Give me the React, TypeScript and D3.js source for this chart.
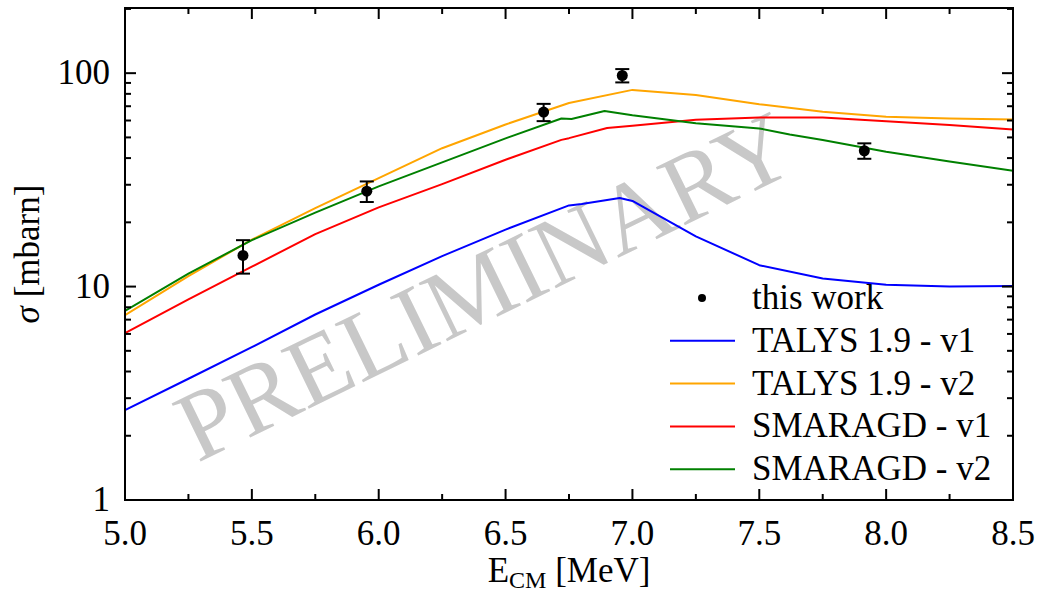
import React from 'react';
import * as d3 from 'd3';

const width = 1037;
const height = 596;
const margin = { left: 125, right: 24, top: 8, bottom: 96 };

// TALYS 1.9 - v1
const talysV1E = [5.0, 5.25, 5.5, 5.75, 6.0, 6.25, 6.5, 6.75, 6.8, 6.95, 7.0, 7.25, 7.5, 7.75, 8.0, 8.25, 8.5];
const talysV1 = [2.64, 3.7, 5.2, 7.4, 10.2, 13.9, 18.5, 24.0, 24.4, 26.0, 25.2, 17.2, 12.6, 10.9, 10.2, 10.0, 10.05];

// TALYS 1.9 - v2
const talysV2E = [5.0, 5.25, 5.5, 5.75, 6.0, 6.25, 6.5, 6.75, 7.0, 7.25, 7.5, 7.75, 8.0, 8.25, 8.5];
const talysV2 = [7.35, 11.2, 16.6, 23.3, 32.2, 44.5, 57.5, 72.5, 83.5, 79.0, 71.5, 66.0, 62.5, 61.3, 60.6];

// SMARAGD - v1
const smaragdV1E = [5.0, 5.25, 5.5, 5.75, 6.0, 6.25, 6.5, 6.72, 6.75, 6.9, 7.0, 7.25, 7.5, 7.75, 8.0, 8.25, 8.5];
const smaragdV1 = [6.05, 8.7, 12.4, 17.6, 23.5, 30.2, 39.3, 48.7, 49.6, 55.3, 56.7, 60.5, 62.0, 62.0, 59.6, 57.1, 54.5];

// SMARAGD - v2
const smaragdV2E = [5.0, 5.25, 5.5, 5.75, 6.0, 6.25, 6.5, 6.72, 6.76, 6.89, 7.0, 7.25, 7.5, 7.62, 7.75, 8.0, 8.25, 8.5];
const smaragdV2 = [7.7, 11.5, 16.5, 22.2, 29.5, 38.2, 49.5, 61.3, 61.0, 66.5, 63.5, 58.2, 55.1, 51.6, 48.6, 42.8, 38.6, 34.9];

// this work
const dataE = [5.465, 5.953, 6.65, 6.96, 7.914];
const dataSigma = [14.0, 28.0, 65.7, 97.5, 43.3];
const dataErr = [2.5, 3.1, 6.1, 7.0, 3.6];

const xTicks = [5.0, 5.5, 6.0, 6.5, 7.0, 7.5, 8.0, 8.5];
const xMinor = [5.25, 5.75, 6.25, 6.75, 7.25, 7.75, 8.25];
const yTicks = [1, 10, 100];
const yMinor = [2, 3, 4, 5, 6, 7, 8, 9, 20, 30, 40, 50, 60, 70, 80, 90, 200];

const series = [
  { name: 'TALYS 1.9 - v1', e: talysV1E, v: talysV1, color: '#0000ff' },
  { name: 'TALYS 1.9 - v2', e: talysV2E, v: talysV2, color: '#ffa500' },
  { name: 'SMARAGD - v1', e: smaragdV1E, v: smaragdV1, color: '#ff0000' },
  { name: 'SMARAGD - v2', e: smaragdV2E, v: smaragdV2, color: '#008000' },
];

const font = '"Liberation Serif", "Times New Roman", serif';
const fs = 35;

export default function App() {
  const x = d3.scaleLinear().domain([5.0, 8.5]).range([margin.left, width - margin.right]);
  const y = d3.scaleLog().domain([1, 202]).range([height - margin.bottom, margin.top]);
  const [x0, x1] = x.range();
  const [y0, y1] = y.range();

  const line = d3.line<number[]>()
    .x(d => x(d[0]))
    .y(d => y(d[1]));

  const legendX = 670;
  const legendY = 298;
  const rowH = 42.8;

  return (
    <svg width={width} height={height} style={{ position: 'absolute', left: 0, top: 0, background: '#fff' }}
      fontFamily={font}>
      <defs>
        <clipPath id="plot">
          <rect x={x0} y={y1} width={x1 - x0} height={y0 - y1} />
        </clipPath>
      </defs>

      <text transform="translate(499,316) rotate(-26)" textAnchor="middle" fontSize={99} fill="#c8c8c8">
        PRELIMINARY
      </text>

      <g clipPath="url(#plot)">
        {series.map(s => (
          <path key={s.name} d={line(s.e.map((e, i) => [e, s.v[i]])) ?? ''} fill="none"
            stroke={s.color} strokeWidth={2} strokeLinejoin="round" />
        ))}
      </g>

      {dataE.map((e, i) => {
        const cx = x(e);
        const lo = y(dataSigma[i] - dataErr[i]);
        const hi = y(dataSigma[i] + dataErr[i]);
        return (
          <g key={i} stroke="#000" strokeWidth={2}>
            <line x1={cx} x2={cx} y1={lo} y2={hi} />
            <line x1={cx - 7} x2={cx + 7} y1={lo} y2={lo} />
            <line x1={cx - 7} x2={cx + 7} y1={hi} y2={hi} />
            <circle cx={cx} cy={y(dataSigma[i])} r={5.5} fill="#000" stroke="none" />
          </g>
        );
      })}

      {/* frame and ticks */}
      <g stroke="#000" strokeWidth={2}>
        <rect x={x0} y={y1} width={x1 - x0} height={y0 - y1} fill="none" />
        {xTicks.map(t => (
          <g key={'xt' + t}>
            <line x1={x(t)} x2={x(t)} y1={y0} y2={y0 - 11} />
            <line x1={x(t)} x2={x(t)} y1={y1} y2={y1 + 11} />
          </g>
        ))}
        {xMinor.map(t => (
          <g key={'xm' + t}>
            <line x1={x(t)} x2={x(t)} y1={y0} y2={y0 - 6} />
            <line x1={x(t)} x2={x(t)} y1={y1} y2={y1 + 6} />
          </g>
        ))}
        {yTicks.map(t => (
          <g key={'yt' + t}>
            <line x1={x0} x2={x0 + 11} y1={y(t)} y2={y(t)} />
            <line x1={x1} x2={x1 - 11} y1={y(t)} y2={y(t)} />
          </g>
        ))}
        {yMinor.filter(t => y(t) >= y1).map(t => (
          <g key={'ym' + t}>
            <line x1={x0} x2={x0 + 6} y1={y(t)} y2={y(t)} />
            <line x1={x1} x2={x1 - 6} y1={y(t)} y2={y(t)} />
          </g>
        ))}
      </g>

      {xTicks.map(t => (
        <text key={'xl' + t} x={x(t)} y={545} textAnchor="middle" fontSize={fs}>{t.toFixed(1)}</text>
      ))}
      {yTicks.map(t => (
        <text key={'yl' + t} x={110} y={y(t) + 11} textAnchor="end" fontSize={fs}>{t}</text>
      ))}

      <text x={(x0 + x1) / 2} y={582} textAnchor="middle" fontSize={fs}>
        E<tspan fontSize={24} dy={6}>CM</tspan><tspan dy={-6}> [MeV]</tspan>
      </text>
      <text transform={`translate(39,${(y0 + y1) / 2}) rotate(-90)`} textAnchor="middle" fontSize={fs}>
        <tspan fontStyle="italic">σ</tspan> [mbarn]
      </text>

      {/* legend */}
      <circle cx={702} cy={legendY} r={4} fill="#000" />
      <text x={752} y={legendY + 11} fontSize={fs}>this work</text>
      {series.map((s, i) => {
        const ly = legendY + rowH * (i + 1);
        return (
          <g key={'lg' + s.name}>
            <line x1={legendX} x2={legendX + 65} y1={ly} y2={ly} stroke={s.color} strokeWidth={2} />
            <text x={752} y={ly + 11} fontSize={fs}>{s.name}</text>
          </g>
        );
      })}
    </svg>
  );
}
